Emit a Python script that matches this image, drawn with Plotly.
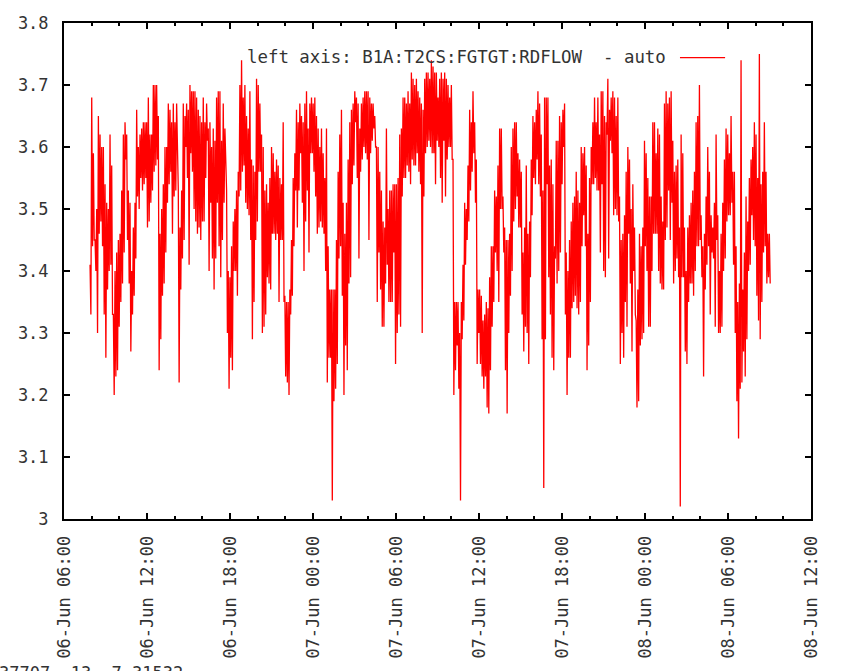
import pandas as pd
import plotly.graph_objects as go

# Data (upper / lower envelope of each stroke, in time order)
flow_high = [
    3.41,3.68,3.59,3.45,3.50,3.65,3.62,3.60,3.60,3.54,
    3.51,3.50,3.62,3.57,3.33,3.40,3.43,3.45,3.46,3.53,
    3.62,3.64,3.62,3.53,3.51,3.40,3.47,3.51,3.66,3.60,
    3.62,3.63,3.64,3.64,3.64,3.68,3.62,3.62,3.70,3.70,
    3.70,3.65,3.46,3.50,3.54,3.60,3.60,3.67,3.66,3.64,
    3.67,3.64,3.67,3.53,3.47,3.53,3.67,3.65,3.67,3.66,
    3.70,3.69,3.69,3.69,3.68,3.66,3.65,3.64,
    3.68,3.64,3.67,3.63,3.64,3.60,3.63,3.61,3.68,3.69,
    3.69,3.61,3.67,3.63,3.53,3.40,3.39,3.44,3.48,3.50,
    3.53,3.56,3.70,3.74,3.68,3.70,3.65,3.63,3.69,3.58,
    3.57,3.56,3.71,3.70,3.67,3.62,3.60,3.53,3.54,3.51,
    3.55,3.60,3.59,3.56,3.58,3.57,3.55,3.54,3.64,3.36,
    3.35,3.35,3.37,3.45,3.55,3.59,3.66,3.64,3.67,3.65,
    3.64,3.67,3.69,3.63,3.67,3.68,3.67,3.68,3.65,
    3.63,3.60,3.63,3.59,3.55,3.63,3.44,3.37,3.37,3.37,
    3.37,3.45,3.56,3.62,3.66,3.51,3.46,3.51,3.58,3.64,
    3.66,3.67,3.69,3.68,3.67,3.63,3.67,3.68,3.69,3.69,
    3.69,3.68,3.67,3.67,3.65,3.60,3.60,3.56,3.53,3.48,
    3.47,3.63,3.50,3.53,3.53,3.54,3.54,3.54,3.55,3.62,
    3.63,3.68,3.68,3.67,3.69,3.67,3.72,3.71,3.70,3.71,
    3.69,3.68,3.67,3.66,3.71,3.72,3.72,3.71,3.74,
    3.73,3.72,3.72,3.68,3.71,3.72,3.71,3.72,3.71,3.70,
    3.68,3.70,3.58,3.35,3.35,3.35,3.30,3.35,3.41,3.51,
    3.50,3.57,3.66,3.64,3.69,3.64,3.58,3.37,3.37,3.36,
    3.32,3.33,3.35,3.34,3.39,3.44,3.44,3.53,3.52,3.57,
    3.63,3.63,3.52,3.47,3.45,3.45,3.46,3.60,3.63,3.64,
    3.64,3.59,3.58,3.56,3.43,3.47,3.57,3.46,3.48,3.58,
    3.65,3.64,3.66,3.69,3.67,3.62,3.53,3.68,3.68,
    3.68,3.57,3.58,3.54,3.44,3.61,3.61,3.65,3.64,3.66,
    3.67,3.43,3.40,3.45,3.48,3.51,3.52,3.56,3.53,3.51,
    3.60,3.59,3.60,3.57,3.46,3.55,3.60,3.64,3.68,3.64,
    3.68,3.62,3.69,3.69,3.65,3.64,3.71,3.66,3.68,3.69,
    3.68,3.65,3.68,3.52,3.45,3.46,3.49,3.56,3.60,3.58,
    3.50,3.54,3.47,3.32,3.37,3.46,3.44,3.47,3.61,3.59,
    3.55,3.52,3.52,3.64,3.64,3.59,3.63,3.62,3.52,
    3.48,3.67,3.69,3.67,3.68,3.69,3.61,3.56,3.57,3.58,
    3.47,3.62,3.59,3.47,3.40,3.47,3.49,3.51,3.53,3.56,
    3.64,3.65,3.70,3.49,3.44,3.46,3.52,3.60,3.56,3.49,
    3.47,3.51,3.62,3.49,3.40,3.46,3.51,3.58,3.63,3.62,
    3.59,3.65,3.56,3.56,3.44,3.35,3.38,3.74,3.37,3.43,
    3.52,3.48,3.55,3.58,3.60,3.64,3.62,3.55,3.75,3.54,
    3.56,3.64,3.56,3.46,3.46,
]
flow_low = [
    3.33,3.44,3.45,3.40,3.30,3.46,3.48,3.44,3.33,3.26,
    3.37,3.40,3.41,3.33,3.20,3.23,3.24,3.31,3.35,3.38,
    3.43,3.58,3.45,3.38,3.27,3.33,3.36,3.42,3.52,3.50,
    3.55,3.53,3.54,3.55,3.47,3.48,3.51,3.53,3.56,3.57,
    3.58,3.24,3.29,3.36,3.38,3.43,3.51,3.54,3.56,3.46,
    3.52,3.53,3.55,3.22,3.37,3.42,3.45,3.60,3.55,3.41,
    3.59,3.56,3.50,3.48,3.46,3.47,3.45,3.48,
    3.48,3.55,3.61,3.40,3.51,3.42,3.37,3.42,3.51,3.44,
    3.39,3.45,3.51,3.58,3.30,3.21,3.26,3.24,3.40,3.40,
    3.36,3.52,3.53,3.56,3.57,3.51,3.50,3.49,3.45,3.29,
    3.35,3.45,3.48,3.56,3.56,3.30,3.31,3.33,3.39,3.38,
    3.37,3.46,3.46,3.45,3.46,3.35,3.45,3.45,3.35,3.23,
    3.22,3.20,3.33,3.36,3.44,3.53,3.47,3.53,3.59,3.51,
    3.40,3.48,3.53,3.43,3.59,3.59,3.56,3.52,3.46,
    3.47,3.48,3.47,3.46,3.40,3.22,3.26,3.26,3.03,3.19,
    3.21,3.25,3.42,3.44,3.36,3.20,3.28,3.24,3.38,3.39,
    3.54,3.57,3.64,3.55,3.42,3.56,3.58,3.60,3.59,3.58,
    3.45,3.59,3.61,3.63,3.60,3.35,3.43,3.37,3.31,3.31,
    3.38,3.41,3.35,3.35,3.35,3.43,3.25,3.30,3.33,3.31,
    3.52,3.55,3.55,3.57,3.56,3.54,3.58,3.57,3.57,3.59,
    3.56,3.54,3.30,3.52,3.59,3.60,3.61,3.60,3.59,
    3.59,3.54,3.61,3.60,3.55,3.51,3.61,3.52,3.58,3.60,
    3.60,3.58,3.20,3.24,3.28,3.21,3.03,3.29,3.32,3.41,
    3.45,3.48,3.53,3.56,3.59,3.51,3.25,3.30,3.25,3.23,
    3.21,3.23,3.18,3.17,3.24,3.31,3.35,3.43,3.40,3.35,
    3.50,3.50,3.43,3.24,3.17,3.30,3.36,3.40,3.48,3.50,
    3.52,3.47,3.47,3.33,3.27,3.31,3.30,3.25,3.39,3.49,
    3.55,3.54,3.58,3.54,3.52,3.29,3.05,3.29,3.54,
    3.39,3.33,3.26,3.24,3.42,3.38,3.40,3.43,3.54,3.60,
    3.33,3.20,3.26,3.26,3.34,3.35,3.36,3.34,3.33,3.35,
    3.44,3.49,3.44,3.24,3.28,3.35,3.54,3.54,3.55,3.53,
    3.53,3.43,3.54,3.40,3.39,3.62,3.42,3.61,3.59,3.49,
    3.50,3.49,3.48,3.25,3.30,3.26,3.35,3.31,3.46,3.38,
    3.27,3.40,3.33,3.18,3.19,3.28,3.29,3.30,3.44,3.40,
    3.31,3.31,3.40,3.46,3.46,3.46,3.40,3.38,3.37,
    3.37,3.45,3.47,3.53,3.45,3.51,3.38,3.40,3.42,3.39,
    3.02,3.39,3.39,3.27,3.25,3.35,3.38,3.38,3.36,3.40,
    3.44,3.44,3.45,3.39,3.23,3.37,3.41,3.44,3.33,3.43,
    3.42,3.31,3.45,3.30,3.30,3.31,3.40,3.42,3.48,3.49,
    3.49,3.51,3.41,3.30,3.19,3.13,3.21,3.22,3.27,3.23,
    3.29,3.40,3.41,3.49,3.45,3.44,3.36,3.32,3.29,3.35,
    3.43,3.44,3.38,3.39,3.38,
]
series_name = "left axis: B1A:T2CS:FGTGT:RDFLOW  - auto"
start_time = "2010-06-06 07:53"
end_time = "2010-06-08 09:03"
x_range = ["2010-06-06 06:00", "2010-06-08 12:00"]
status_text = "37707, 13, 7.31532"

n = min(len(flow_high), len(flow_low))
yvals = []
for h, l in zip(flow_high[:n], flow_low[:n]):
    yvals.extend([h, l])
times = pd.date_range(start_time, end_time, periods=len(yvals))

FONT = "DejaVu Sans Mono"
fig = go.Figure()
fig.add_trace(go.Scatter(x=times, y=yvals, mode="lines", name=series_name,
                         line=dict(color="#ff0000", width=1.3), showlegend=False))

fig.update_layout(
    width=846, height=671,
    margin=dict(l=64, r=35, t=23, b=149),
    plot_bgcolor="white", paper_bgcolor="white",
    font=dict(family=FONT, size=17, color="#333333"),
)
fig.update_xaxes(
    type="date", range=x_range, dtick=6 * 3600 * 1000, tick0="2010-06-06 00:00",
    tickformat="%d-%b %H:%M", tickangle=-90,
    ticks="inside", ticklen=6, tickwidth=2, tickcolor="black",
    minor=dict(ticks="inside", ticklen=3, tickwidth=2, tickcolor="black",
               dtick=2 * 3600 * 1000, showgrid=False),
    showline=True, linewidth=2, linecolor="black", mirror="allticks",
    showgrid=False, zeroline=False, ticklabelstandoff=8,
    tickfont=dict(family=FONT, size=17, color="#333333"),
)
fig.update_yaxes(
    range=[3.0, 3.8], dtick=0.1, tick0=3.0,
    ticks="inside", ticklen=6, tickwidth=2, tickcolor="black",
    showline=True, linewidth=2, linecolor="black", mirror="allticks",
    showgrid=False, zeroline=False, ticklabelstandoff=10,
    tickfont=dict(family=FONT, size=17, color="#333333"),
)

fig.add_annotation(xref="paper", yref="paper", x=0.8086, y=0.932,
                   xanchor="right", yanchor="middle", showarrow=False,
                   text=series_name.replace("  ", "&nbsp; "),
                   font=dict(family=FONT, size=17.4, color="#333333"))
fig.add_shape(type="line", xref="paper", yref="paper",
              x0=0.8246, x1=0.885, y0=0.930, y1=0.930,
              line=dict(color="#ff0000", width=1.3))
fig.add_annotation(xref="paper", yref="paper", x=-0.0897, y=-0.286,
                   xanchor="left", yanchor="top", showarrow=False,
                   text=status_text,
                   font=dict(family=FONT, size=17, color="#333333"))

fig.write_html("out.html")
